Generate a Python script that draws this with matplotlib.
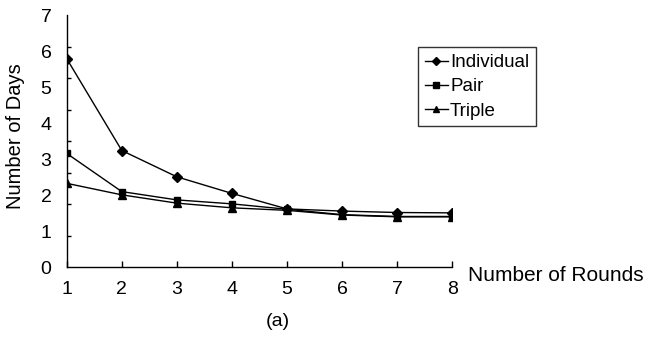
import matplotlib
matplotlib.use('Agg')
import matplotlib.pyplot as plt
import numpy as np

plt.rcParams['font.family'] = ['Liberation Sans', 'DejaVu Sans']

# data
rounds = [1, 2, 3, 4, 5, 6, 7, 8]
individual = [5.79, 3.24, 2.51, 2.05, 1.62, 1.56, 1.52, 1.51]
pair = [3.16, 2.10, 1.87, 1.76, 1.61, 1.46, 1.41, 1.41]
triple = [2.33, 2.01, 1.78, 1.65, 1.58, 1.45, 1.40, 1.40]
series_names = ['Individual', 'Pair', 'Triple']
y_labels = [0, 1, 2, 3, 4, 5, 6, 7]

fig = plt.figure(figsize=(6.48, 3.39), dpi=100)
ax = fig.add_axes([66.7 / 648, 1 - 267.3 / 339, (452.3 - 66.7) / 648, (267.3 - 15) / 339])

ax.plot(rounds, individual, color='black', lw=1.0, marker='D', ms=5.2, label=series_names[0])
ax.plot(rounds, pair, color='black', lw=1.0, marker='s', ms=5.0, label=series_names[1])
ax.plot(rounds, triple, color='black', lw=1.0, marker='^', ms=5.5, label=series_names[2])

ax.set_xlim(1, 8)
ax.set_ylim(0, 7)
for s in ('top', 'right'):
    ax.spines[s].set_visible(False)
for s in ('left', 'bottom'):
    ax.spines[s].set_linewidth(1.0)

ax.set_xticks(rounds)
ax.tick_params(axis='x', direction='in', length=4, width=1, labelsize=14, pad=10)
# labels at integers, tick marks on the excel-style 8 divisions
ax.set_yticks(y_labels)
ax.tick_params(axis='y', which='major', length=0, labelsize=14, pad=11)
ax.set_yticks(np.arange(9) * 7 / 8, minor=True)
ax.tick_params(axis='y', which='minor', direction='in', length=3.2, width=1)

ax.set_ylabel('Number of Days', fontsize=14.5, va='center')
ax.yaxis.set_label_coords(-0.133, 0.52)
ax.set_xlabel('Number of Rounds', fontsize=15, ha='left', va='center')
ax.xaxis.set_label_coords(1.041, -0.033)

fig.text(278 / 648, 1 - 321.7 / 339, '(a)', fontsize=14, ha='center', va='center')

leg = ax.legend(loc='upper left', bbox_to_anchor=(418 / 648, 1 - 47.3 / 339),
                bbox_transform=fig.transFigure, fontsize=13.5, frameon=True,
                fancybox=False, edgecolor='black', handlelength=1.25,
                handletextpad=0.1, labelspacing=0.38, borderpad=0.36,
                borderaxespad=0, markerscale=0.8)
leg.get_frame().set_linewidth(1.0)

fig.savefig('out.png', dpi=100)
